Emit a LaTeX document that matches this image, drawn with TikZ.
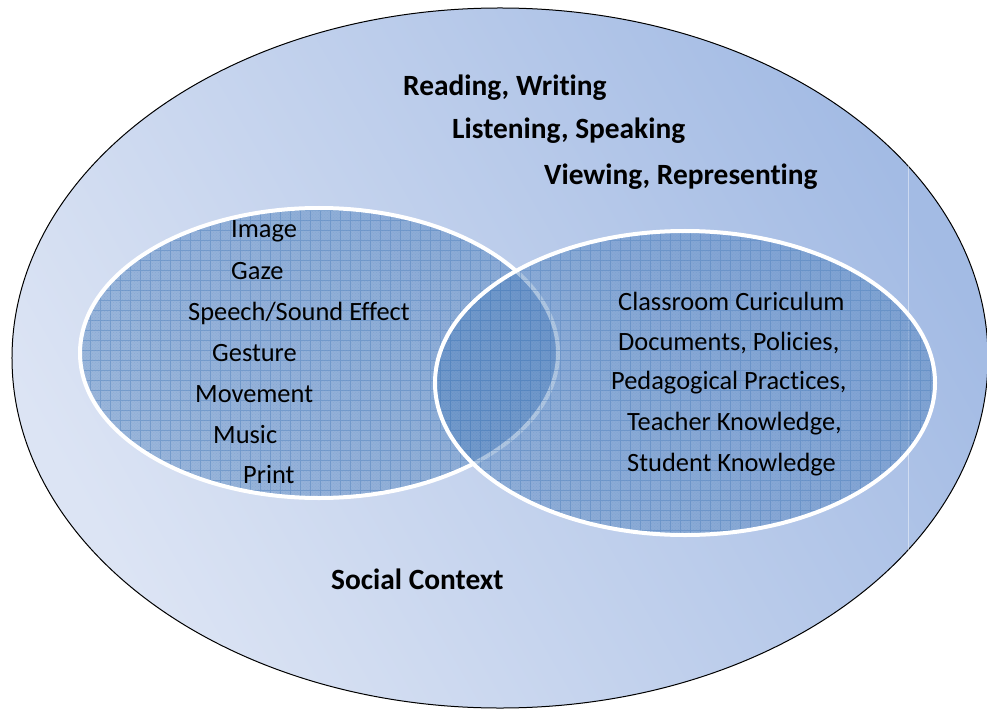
\documentclass[tikz,border=0pt]{standalone}
\usepackage{fontspec}
\setmainfont[Ligatures=NoCommon]{Carlito}
\usetikzlibrary{patterns}
\definecolor{outerlight}{HTML}{DCE4F4}
\definecolor{outerdark}{HTML}{A3BBE4}
\definecolor{accent}{HTML}{4F81BD}
\tikzset{
  lbl/.style={font=\fontsize{26.5}{30}\selectfont, inner sep=0pt, anchor=west},
  bold/.style={font=\fontsize{29.5}{33}\selectfont\bfseries, inner sep=0pt, anchor=west},
  gridlines/.style={draw=accent, line width=0.7bp, opacity=0.45},
  whiteborder/.style={draw=white, line width=4bp},
}
\begin{document}
\begin{tikzpicture}[x=1bp,y=-1bp]
\useasboundingbox (0,0) rectangle (987,709);
% outer ellipse
\begin{scope}
\clip (0,0) rectangle (987,709);
\shade[top color=outerdark, bottom color=outerlight, shading angle=-60]
  (500,358) ellipse [x radius=488bp, y radius=350bp];
\draw[black, line width=1bp] (500,358) ellipse [x radius=488bp, y radius=350bp];
\draw[white, opacity=0.45, line width=1bp] (908,160) -- (908,557);
\end{scope}
% left ellipse
\begin{scope}
\clip (319,353) ellipse [x radius=239bp, y radius=145bp];
\fill[accent, opacity=0.45] (70,200) rectangle (570,510);
\fill[pattern=crosshatch dots, pattern color=accent, opacity=0.2] (70,200) rectangle (570,510);
\draw[gridlines] (70,200) grid[step=10bp] (570,510);
\end{scope}
\draw[whiteborder] (319,353) ellipse [x radius=239bp, y radius=145bp];
% right ellipse (semi transparent)
\begin{scope}
\clip (685,383) ellipse [x radius=250bp, y radius=152bp];
\fill[accent, opacity=0.45] (430,225) rectangle (940,540);
\fill[pattern=crosshatch dots, pattern color=accent, opacity=0.2] (430,225) rectangle (940,540);
\draw[gridlines] (430,225) grid[step=10bp] (940,540);
\end{scope}
\draw[whiteborder] (685,383) ellipse [x radius=250bp, y radius=152bp];
% bold texts
\node[bold] (rw) at (403,88) {Reading, Writing};
\node[bold] (ls) at (452,131) {Listening, Speaking};
\node[bold] (vr) at (544,177) {Viewing, Representing};
\node[bold] (sc) at (331,579) {Social Context};
% left texts
\node[lbl] (t1) at (231,231) {Image};
\node[lbl] (t2) at (231,271) {Gaze};
\node[lbl] (t3) at (188,313) {Speech/Sound Effect};
\node[lbl] (t4) at (212,353) {Gesture};
\node[lbl] (t5) at (195,394) {Movement};
\node[lbl] (t6) at (213,435) {Music};
\node[lbl] (t7) at (243,475) {Print};
% right texts
\node[lbl] (r1) at (618,301) {Classroom Curiculum};
\node[lbl] (r2) at (618,343) {Documents, Policies,};
\node[lbl] (r3) at (611,383) {Pedagogical Practices,};
\node[lbl] (r4) at (627,424) {Teacher Knowledge,};
\node[lbl] (r5) at (627,465) {Student Knowledge};
\end{tikzpicture}
\end{document}
